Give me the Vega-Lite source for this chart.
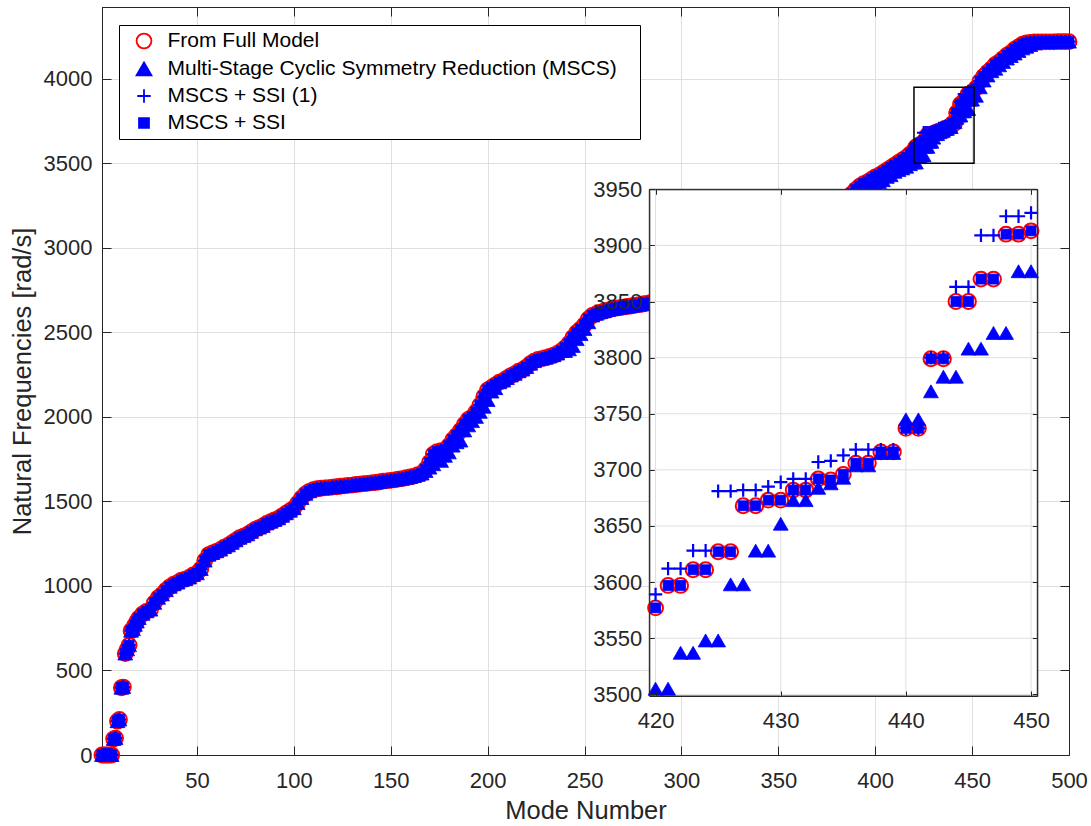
{
"$schema": "https://vega.github.io/schema/vega-lite/v6.json",
"width": 967, "height": 748,
"autosize": "none",
"padding": {"left": 102, "top": 7, "right": 22, "bottom": 71},
"background": "white",
"config": {
  "view": {"stroke": "#262626", "strokeWidth": 1},
  "font": "Liberation Sans",
  "axis": {"labelFont": "Liberation Sans", "titleFont": "Liberation Sans", "labelFontSize": 22, "titleFontSize": 25.5, "titleFontWeight": "normal", "labelColor": "#262626", "titleColor": "#262626", "domainColor": "#262626", "tickColor": "#262626", "gridColor": "#dfdfdf", "gridWidth": 1, "domainWidth": 1, "tickWidth": 1, "labelFlush": false, "format": "d"}
},
"datasets": {
"igx": [{"v":420},{"v":430},{"v":440},{"v":450}],
"igy": [{"v":3500},{"v":3550},{"v":3600},{"v":3650},{"v":3700},{"v":3750},{"v":3800},{"v":3850},{"v":3900}],
"modes": [
{"m":1,"f":0,"a":0,"p":0,"s":0},{"m":2,"f":0,"a":0,"p":0,"s":0},{"m":3,"f":0,"a":0,"p":0,"s":0},{"m":4,"f":0,"a":0,"p":0,"s":0},{"m":5,"f":0,"a":0,"p":0,"s":0},{"m":6,"f":0,"a":0,"p":0,"s":0},
{"m":7,"f":95,"a":95,"p":95,"s":95},{"m":8,"f":100,"a":100,"p":100,"s":100},{"m":9,"f":200,"a":200,"p":200,"s":200},{"m":10,"f":210,"a":210,"p":210,"s":210},
{"m":11,"f":398,"a":398,"p":398,"s":398},{"m":12,"f":402,"a":402,"p":402,"s":402},{"m":13,"f":600,"a":600,"p":600,"s":600},{"m":14,"f":625,"a":625,"p":625,"s":625},
{"m":15,"f":650,"a":650,"p":650,"s":650},{"m":16,"f":735,"a":735,"p":735,"s":735},{"m":17,"f":745,"a":745,"p":745,"s":745},{"m":18,"f":770,"a":770,"p":770,"s":770},
{"m":19,"f":790,"a":790,"p":790,"s":790},{"m":20,"f":810,"a":810,"p":810,"s":810},
{"m":22,"f":835,"a":835,"p":835,"s":835},{"m":24,"f":850,"a":850,"p":850,"s":850},{"m":26,"f":860,"a":860,"p":860,"s":860},{"m":28,"f":900,"a":900,"p":900,"s":900},
{"m":30,"f":930,"a":930,"p":930,"s":930},{"m":32,"f":950,"a":950,"p":950,"s":950},{"m":34,"f":975,"a":975,"p":975,"s":975},{"m":36,"f":995,"a":995,"p":995,"s":995},
{"m":38,"f":1010,"a":1010,"p":1010,"s":1010},{"m":40,"f":1020,"a":1020,"p":1020,"s":1020},{"m":42,"f":1035,"a":1035,"p":1035,"s":1035},{"m":44,"f":1040,"a":1040,"p":1040,"s":1040},
{"m":46,"f":1050,"a":1050,"p":1050,"s":1050},{"m":48,"f":1065,"a":1065,"p":1065,"s":1065},{"m":50,"f":1075,"a":1075,"p":1075,"s":1075},{"m":52,"f":1100,"a":1100,"p":1100,"s":1100},
{"m":54,"f":1150,"a":1150,"p":1150,"s":1150},{"m":56,"f":1185,"a":1185,"p":1185,"s":1185},{"m":58,"f":1195,"a":1195,"p":1195,"s":1195},{"m":60,"f":1205,"a":1205,"p":1205,"s":1205},
{"m":62,"f":1215,"a":1215,"p":1215,"s":1215},{"m":64,"f":1230,"a":1230,"p":1230,"s":1230},{"m":66,"f":1240,"a":1240,"p":1240,"s":1240},{"m":68,"f":1255,"a":1255,"p":1255,"s":1255},
{"m":70,"f":1270,"a":1270,"p":1270,"s":1270},{"m":72,"f":1285,"a":1285,"p":1285,"s":1285},{"m":74,"f":1295,"a":1295,"p":1295,"s":1295},{"m":76,"f":1305,"a":1305,"p":1305,"s":1305},
{"m":78,"f":1320,"a":1320,"p":1320,"s":1320},{"m":80,"f":1335,"a":1335,"p":1335,"s":1335},{"m":82,"f":1345,"a":1345,"p":1345,"s":1345},{"m":84,"f":1355,"a":1355,"p":1355,"s":1355},
{"m":86,"f":1370,"a":1370,"p":1370,"s":1370},{"m":88,"f":1380,"a":1380,"p":1380,"s":1380},{"m":90,"f":1390,"a":1390,"p":1390,"s":1390},{"m":92,"f":1400,"a":1400,"p":1400,"s":1400},
{"m":94,"f":1415,"a":1415,"p":1415,"s":1415},{"m":96,"f":1430,"a":1430,"p":1430,"s":1430},{"m":98,"f":1445,"a":1445,"p":1445,"s":1445},{"m":100,"f":1460,"a":1460,"p":1460,"s":1460},
{"m":102,"f":1490,"a":1490,"p":1490,"s":1490},{"m":104,"f":1520,"a":1520,"p":1520,"s":1520},{"m":106,"f":1545,"a":1545,"p":1545,"s":1545},{"m":108,"f":1560,"a":1560,"p":1560,"s":1560},
{"m":110,"f":1570,"a":1570,"p":1570,"s":1570},{"m":112,"f":1575,"a":1575,"p":1575,"s":1575},{"m":114,"f":1578,"a":1578,"p":1578,"s":1578},{"m":116,"f":1580,"a":1580,"p":1580,"s":1580},
{"m":118,"f":1582,"a":1582,"p":1582,"s":1582},{"m":120,"f":1585,"a":1585,"p":1585,"s":1585},{"m":122,"f":1587,"a":1587,"p":1587,"s":1587},{"m":124,"f":1590,"a":1590,"p":1590,"s":1590},
{"m":126,"f":1592,"a":1592,"p":1592,"s":1592},{"m":128,"f":1595,"a":1595,"p":1595,"s":1595},{"m":130,"f":1597,"a":1597,"p":1597,"s":1597},{"m":132,"f":1600,"a":1600,"p":1600,"s":1600},
{"m":134,"f":1602,"a":1602,"p":1602,"s":1602},{"m":136,"f":1605,"a":1605,"p":1605,"s":1605},{"m":138,"f":1607,"a":1607,"p":1607,"s":1607},{"m":140,"f":1610,"a":1610,"p":1610,"s":1610},
{"m":142,"f":1612,"a":1612,"p":1612,"s":1612},{"m":144,"f":1615,"a":1615,"p":1615,"s":1615},{"m":146,"f":1620,"a":1620,"p":1620,"s":1620},{"m":148,"f":1622,"a":1622,"p":1622,"s":1622},
{"m":150,"f":1625,"a":1625,"p":1625,"s":1625},{"m":152,"f":1628,"a":1628,"p":1628,"s":1628},{"m":154,"f":1632,"a":1632,"p":1632,"s":1632},{"m":156,"f":1635,"a":1635,"p":1635,"s":1635},
{"m":158,"f":1640,"a":1640,"p":1640,"s":1640},{"m":160,"f":1645,"a":1645,"p":1645,"s":1645},{"m":162,"f":1650,"a":1650,"p":1650,"s":1650},{"m":164,"f":1658,"a":1658,"p":1658,"s":1658},
{"m":166,"f":1665,"a":1665,"p":1665,"s":1665},{"m":168,"f":1690,"a":1680,"p":1690,"s":1690},{"m":170,"f":1730,"a":1700,"p":1730,"s":1730},{"m":172,"f":1780,"a":1720,"p":1780,"s":1780},
{"m":174,"f":1795,"a":1750,"p":1795,"s":1795},{"m":176,"f":1800,"a":1740,"p":1800,"s":1800},{"m":178,"f":1805,"a":1770,"p":1805,"s":1805},{"m":180,"f":1830,"a":1790,"p":1830,"s":1830},
{"m":182,"f":1865,"a":1830,"p":1865,"s":1865},{"m":184,"f":1890,"a":1850,"p":1890,"s":1890},{"m":186,"f":1920,"a":1860,"p":1920,"s":1920},{"m":188,"f":1955,"a":1920,"p":1955,"s":1955},
{"m":190,"f":1985,"a":1950,"p":1985,"s":1985},{"m":192,"f":2000,"a":1975,"p":2000,"s":2000},{"m":194,"f":2030,"a":2000,"p":2030,"s":2030},{"m":196,"f":2070,"a":2030,"p":2070,"s":2070},
{"m":198,"f":2120,"a":2060,"p":2120,"s":2120},{"m":200,"f":2160,"a":2100,"p":2160,"s":2160},{"m":202,"f":2175,"a":2150,"p":2175,"s":2175},{"m":204,"f":2190,"a":2170,"p":2190,"s":2190},
{"m":206,"f":2205,"a":2205,"p":2205,"s":2205},{"m":208,"f":2215,"a":2215,"p":2215,"s":2215},{"m":210,"f":2230,"a":2230,"p":2230,"s":2230},{"m":212,"f":2245,"a":2245,"p":2245,"s":2245},
{"m":214,"f":2255,"a":2255,"p":2255,"s":2255},{"m":216,"f":2270,"a":2270,"p":2270,"s":2270},{"m":218,"f":2280,"a":2280,"p":2280,"s":2280},{"m":220,"f":2295,"a":2295,"p":2295,"s":2295},
{"m":222,"f":2315,"a":2315,"p":2315,"s":2315},{"m":224,"f":2330,"a":2330,"p":2330,"s":2330},{"m":226,"f":2340,"a":2340,"p":2340,"s":2340},{"m":228,"f":2345,"a":2345,"p":2345,"s":2345},
{"m":230,"f":2350,"a":2350,"p":2350,"s":2350},{"m":232,"f":2358,"a":2358,"p":2358,"s":2358},{"m":234,"f":2365,"a":2365,"p":2365,"s":2365},{"m":236,"f":2375,"a":2375,"p":2375,"s":2375},
{"m":238,"f":2390,"a":2390,"p":2390,"s":2390},{"m":240,"f":2410,"a":2390,"p":2410,"s":2410},{"m":242,"f":2435,"a":2400,"p":2435,"s":2435},{"m":244,"f":2470,"a":2420,"p":2470,"s":2470},
{"m":246,"f":2500,"a":2460,"p":2500,"s":2500},{"m":248,"f":2520,"a":2490,"p":2520,"s":2520},{"m":250,"f":2545,"a":2520,"p":2545,"s":2545},{"m":252,"f":2580,"a":2560,"p":2580,"s":2580},
{"m":254,"f":2600,"a":2600,"p":2600,"s":2600},{"m":256,"f":2610,"a":2610,"p":2610,"s":2610},{"m":258,"f":2620,"a":2620,"p":2620,"s":2620},{"m":260,"f":2625,"a":2625,"p":2625,"s":2625},
{"m":262,"f":2632,"a":2632,"p":2632,"s":2632},{"m":264,"f":2638,"a":2638,"p":2638,"s":2638},{"m":266,"f":2642,"a":2642,"p":2642,"s":2642},{"m":268,"f":2646,"a":2646,"p":2646,"s":2646},
{"m":270,"f":2650,"a":2650,"p":2650,"s":2650},{"m":272,"f":2653,"a":2653,"p":2653,"s":2653},{"m":274,"f":2656,"a":2656,"p":2656,"s":2656},{"m":276,"f":2660,"a":2660,"p":2660,"s":2660},
{"m":278,"f":2664,"a":2664,"p":2664,"s":2664},{"m":280,"f":2668,"a":2668,"p":2668,"s":2668},{"m":282,"f":2672,"a":2672,"p":2672,"s":2672},{"m":284,"f":2676,"a":2676,"p":2676,"s":2676},
{"m":286,"f":2680,"a":2680,"p":2680,"s":2680},{"m":288,"f":2685,"a":2685,"p":2685,"s":2685},{"m":290,"f":2690,"a":2690,"p":2690,"s":2690},{"m":292,"f":2700,"a":2700,"p":2700,"s":2700},
{"m":294,"f":2705,"a":2705,"p":2705,"s":2705},{"m":296,"f":2712,"a":2712,"p":2712,"s":2712},{"m":298,"f":2718,"a":2718,"p":2718,"s":2718},{"m":300,"f":2725,"a":2725,"p":2725,"s":2725},
{"m":302,"f":2730,"a":2730,"p":2730,"s":2730},{"m":304,"f":2738,"a":2738,"p":2738,"s":2738},{"m":306,"f":2745,"a":2745,"p":2745,"s":2745},{"m":308,"f":2752,"a":2752,"p":2752,"s":2752},
{"m":310,"f":2760,"a":2760,"p":2760,"s":2760},{"m":312,"f":2768,"a":2768,"p":2768,"s":2768},{"m":314,"f":2775,"a":2775,"p":2775,"s":2775},{"m":316,"f":2782,"a":2782,"p":2782,"s":2782},
{"m":318,"f":2790,"a":2790,"p":2790,"s":2790},{"m":320,"f":2800,"a":2800,"p":2800,"s":2800},{"m":322,"f":2810,"a":2810,"p":2810,"s":2810},{"m":324,"f":2820,"a":2820,"p":2820,"s":2820},
{"m":326,"f":2830,"a":2830,"p":2830,"s":2830},{"m":328,"f":2840,"a":2840,"p":2840,"s":2840},{"m":330,"f":2850,"a":2850,"p":2850,"s":2850},{"m":332,"f":2865,"a":2865,"p":2865,"s":2865},
{"m":334,"f":2878,"a":2878,"p":2878,"s":2878},{"m":336,"f":2890,"a":2890,"p":2890,"s":2890},{"m":338,"f":2905,"a":2905,"p":2905,"s":2905},{"m":340,"f":2920,"a":2920,"p":2920,"s":2920},
{"m":342,"f":2935,"a":2935,"p":2935,"s":2935},{"m":344,"f":2950,"a":2950,"p":2950,"s":2950},{"m":346,"f":2965,"a":2965,"p":2965,"s":2965},{"m":348,"f":2980,"a":2980,"p":2980,"s":2980},
{"m":350,"f":3000,"a":3000,"p":3000,"s":3000},{"m":352,"f":3015,"a":3015,"p":3015,"s":3015},{"m":354,"f":3030,"a":3030,"p":3030,"s":3030},{"m":356,"f":3045,"a":3045,"p":3045,"s":3045},
{"m":358,"f":3060,"a":3060,"p":3060,"s":3060},{"m":360,"f":3080,"a":3080,"p":3080,"s":3080},{"m":362,"f":3095,"a":3095,"p":3095,"s":3095},{"m":364,"f":3110,"a":3110,"p":3110,"s":3110},
{"m":366,"f":3125,"a":3125,"p":3125,"s":3125},{"m":368,"f":3140,"a":3140,"p":3140,"s":3140},{"m":370,"f":3160,"a":3160,"p":3160,"s":3160},{"m":372,"f":3175,"a":3175,"p":3175,"s":3175},
{"m":374,"f":3190,"a":3190,"p":3190,"s":3190},{"m":376,"f":3205,"a":3205,"p":3205,"s":3205},{"m":378,"f":3222,"a":3222,"p":3222,"s":3222},{"m":380,"f":3240,"a":3240,"p":3240,"s":3240},
{"m":382,"f":3260,"a":3260,"p":3260,"s":3260},{"m":384,"f":3280,"a":3280,"p":3280,"s":3280},{"m":386,"f":3300,"a":3300,"p":3300,"s":3300},{"m":388,"f":3320,"a":3320,"p":3320,"s":3320},
{"m":390,"f":3345,"a":3345,"p":3345,"s":3345},{"m":392,"f":3365,"a":3365,"p":3365,"s":3365},{"m":394,"f":3380,"a":3380,"p":3380,"s":3380},{"m":396,"f":3390,"a":3340,"p":3390,"s":3390},
{"m":398,"f":3405,"a":3360,"p":3405,"s":3405},{"m":400,"f":3420,"a":3380,"p":3420,"s":3420},{"m":402,"f":3430,"a":3390,"p":3430,"s":3430},{"m":404,"f":3445,"a":3400,"p":3445,"s":3445},
{"m":406,"f":3460,"a":3420,"p":3460,"s":3460},{"m":408,"f":3475,"a":3430,"p":3475,"s":3475},{"m":410,"f":3490,"a":3450,"p":3490,"s":3490},{"m":412,"f":3505,"a":3460,"p":3505,"s":3505},
{"m":414,"f":3520,"a":3470,"p":3520,"s":3520},{"m":416,"f":3535,"a":3480,"p":3535,"s":3535},{"m":418,"f":3555,"a":3495,"p":3555,"s":3555},
{"m":420,"f":3577,"a":3505,"p":3589,"s":3577},{"m":421,"f":3597,"a":3505,"p":3612,"s":3597},{"m":422,"f":3597,"a":3537,"p":3612,"s":3597},{"m":423,"f":3611,"a":3537,"p":3628,"s":3611},
{"m":424,"f":3611,"a":3548,"p":3628,"s":3611},{"m":425,"f":3627,"a":3548,"p":3681,"s":3627},{"m":426,"f":3627,"a":3598,"p":3681,"s":3627},{"m":427,"f":3668,"a":3598,"p":3682,"s":3668},
{"m":428,"f":3668,"a":3628,"p":3682,"s":3668},{"m":429,"f":3673,"a":3628,"p":3685,"s":3673},{"m":430,"f":3673,"a":3652,"p":3689,"s":3673},{"m":431,"f":3682,"a":3673,"p":3692,"s":3682},
{"m":432,"f":3682,"a":3673,"p":3692,"s":3682},{"m":433,"f":3692,"a":3684,"p":3707,"s":3692},{"m":434,"f":3691,"a":3688,"p":3708,"s":3691},{"m":435,"f":3696,"a":3693,"p":3713,"s":3696},
{"m":436,"f":3706,"a":3704,"p":3718,"s":3706},{"m":437,"f":3706,"a":3704,"p":3718,"s":3706},{"m":438,"f":3716,"a":3715,"p":3718,"s":3716},{"m":439,"f":3716,"a":3715,"p":3718,"s":3716},
{"m":440,"f":3737,"a":3745,"p":3737,"s":3737},{"m":441,"f":3737,"a":3745,"p":3737,"s":3737},{"m":442,"f":3799,"a":3770,"p":3800,"s":3799},{"m":443,"f":3799,"a":3783,"p":3800,"s":3799},
{"m":444,"f":3850,"a":3783,"p":3863,"s":3850},{"m":445,"f":3850,"a":3808,"p":3863,"s":3850},{"m":446,"f":3870,"a":3808,"p":3909,"s":3870},{"m":447,"f":3870,"a":3822,"p":3909,"s":3870},
{"m":448,"f":3910,"a":3822,"p":3926,"s":3910},{"m":449,"f":3910,"a":3877,"p":3926,"s":3910},{"m":450,"f":3913,"a":3877,"p":3929,"s":3913},
{"m":452,"f":3945,"a":3900,"p":3945,"s":3945},{"m":454,"f":3985,"a":3950,"p":3985,"s":3985},{"m":456,"f":4015,"a":3990,"p":4015,"s":4015},{"m":458,"f":4040,"a":4020,"p":4040,"s":4040},
{"m":460,"f":4060,"a":4045,"p":4060,"s":4060},{"m":462,"f":4085,"a":4060,"p":4085,"s":4085},{"m":464,"f":4100,"a":4080,"p":4100,"s":4100},{"m":466,"f":4120,"a":4100,"p":4120,"s":4120},
{"m":468,"f":4140,"a":4120,"p":4140,"s":4140},{"m":470,"f":4155,"a":4135,"p":4155,"s":4155},{"m":472,"f":4175,"a":4150,"p":4175,"s":4175},{"m":474,"f":4190,"a":4165,"p":4190,"s":4190},
{"m":476,"f":4205,"a":4180,"p":4205,"s":4205},{"m":478,"f":4212,"a":4190,"p":4212,"s":4212},{"m":480,"f":4216,"a":4200,"p":4216,"s":4216},{"m":482,"f":4218,"a":4210,"p":4218,"s":4218},
{"m":484,"f":4218,"a":4218,"p":4218,"s":4218},{"m":486,"f":4218,"a":4218,"p":4218,"s":4218},{"m":488,"f":4219,"a":4219,"p":4219,"s":4219},{"m":490,"f":4219,"a":4219,"p":4219,"s":4219},
{"m":492,"f":4219,"a":4219,"p":4219,"s":4219},{"m":494,"f":4220,"a":4220,"p":4220,"s":4220},{"m":496,"f":4220,"a":4220,"p":4220,"s":4220},{"m":498,"f":4220,"a":4220,"p":4220,"s":4220},
{"m":500,"f":4220,"a":4220,"p":4220,"s":4220}
]
},
"layer": [
{
  "data": {"name": "modes"},
  "resolve": {"axis": {"x": "independent", "y": "independent"}},
  "layer": [
    {
      "transform": [{"fold": ["f"], "as": ["key", "v"]}],
      "mark": {"type": "point", "size": 220, "strokeWidth": 2, "opacity": 1},
      "encoding": {
        "x": {"field": "m", "type": "quantitative", "scale": {"domain": [1, 500], "nice": false, "zero": false},
              "axis": {"orient": "bottom", "values": [50,100,150,200,250,300,350,400,450,500], "grid": true, "title": "Mode Number", "tickSize": -9, "labelPadding": 24, "titlePadding": 7}},
        "y": {"field": "v", "type": "quantitative", "scale": {"domain": [0, 4425], "nice": false, "zero": false},
              "axis": {"orient": "left", "values": [0,500,1000,1500,2000,2500,3000,3500,4000], "grid": true, "title": "Natural Frequencies [rad/s]", "tickSize": -9, "labelPadding": 19, "titlePadding": 8}},
        "shape": {"field": "key", "type": "nominal",
                  "scale": {"domain": ["f","a","p","s"], "range": ["M1,0A1,1,0,1,1,-1,0A1,1,0,1,1,1,0Z", "M0,-0.87L1,0.87L-1,0.87Z", "M-0.9,0H0.9M0,-0.9V0.9", "M-0.67,-0.67H0.67V0.67H-0.67Z"]},
                  "legend": {"title": null, "orient": "none", "legendX": 17, "legendY": 18, "labelExpr": "datum.label == 'f' ? 'From Full Model' : datum.label == 'a' ? 'Multi-Stage Cyclic Symmetry Reduction (MSCS)\u00a0\u00a0\u00a0\u200b' : datum.label == 'p' ? 'MSCS + SSI (1)' : 'MSCS + SSI'", "strokeColor": "#000000", "fillColor": "#ffffff", "padding": 5.5, "labelFont": "Liberation Sans", "labelFontSize": 21, "labelColor": "#000000", "symbolSize": 220, "symbolStrokeWidth": 1.8, "symbolFillColor": "#0000ff", "symbolStrokeColor": "#0000ff", "rowPadding": 5, "symbolOffset": 9, "labelOffset": 13, "labelLimit": 0}},
        "fill": {"field": "key", "type": "nominal",
                 "scale": {"domain": ["f","a","p","s"], "range": ["transparent", "#0000ff", "#0000ff", "#0000ff"]},
                 "legend": {"title": null, "orient": "none", "legendX": 17, "legendY": 18, "labelExpr": "datum.label == 'f' ? 'From Full Model' : datum.label == 'a' ? 'Multi-Stage Cyclic Symmetry Reduction (MSCS)\u00a0\u00a0\u00a0\u200b' : datum.label == 'p' ? 'MSCS + SSI (1)' : 'MSCS + SSI'", "strokeColor": "#000000", "fillColor": "#ffffff", "padding": 5.5, "labelFont": "Liberation Sans", "labelFontSize": 21, "labelColor": "#000000", "symbolSize": 220, "symbolStrokeWidth": 1.8, "symbolFillColor": "#0000ff", "symbolStrokeColor": "#0000ff", "rowPadding": 5, "symbolOffset": 9, "labelOffset": 13, "labelLimit": 0}},
        "stroke": {"field": "key", "type": "nominal",
                   "scale": {"domain": ["f","a","p","s"], "range": ["#ff0000", "#0000ff", "#0000ff", "#0000ff"]},
                   "legend": {"title": null, "orient": "none", "legendX": 17, "legendY": 18, "labelExpr": "datum.label == 'f' ? 'From Full Model' : datum.label == 'a' ? 'Multi-Stage Cyclic Symmetry Reduction (MSCS)\u00a0\u00a0\u00a0\u200b' : datum.label == 'p' ? 'MSCS + SSI (1)' : 'MSCS + SSI'", "strokeColor": "#000000", "fillColor": "#ffffff", "padding": 5.5, "labelFont": "Liberation Sans", "labelFontSize": 21, "labelColor": "#000000", "symbolSize": 220, "symbolStrokeWidth": 1.8, "symbolFillColor": "#0000ff", "symbolStrokeColor": "#0000ff", "rowPadding": 5, "symbolOffset": 9, "labelOffset": 13, "labelLimit": 0}}
      }
    },
    {
      "transform": [{"fold": ["a"], "as": ["key", "v"]}],
      "mark": {"type": "point", "size": 220, "strokeWidth": 0.8, "opacity": 1},
      "encoding": {
        "x": {"field": "m", "type": "quantitative", "axis": {"orient": "top", "values": [50,100,150,200,250,300,350,400,450,500], "labels": false, "grid": false, "title": null, "tickSize": -9}},
        "y": {"field": "v", "type": "quantitative", "axis": {"orient": "right", "values": [0,500,1000,1500,2000,2500,3000,3500,4000], "labels": false, "grid": false, "title": null, "tickSize": -9}},
        "shape": {"field": "key", "type": "nominal"},
        "fill": {"field": "key", "type": "nominal"},
        "stroke": {"field": "key", "type": "nominal"}
      }
    },
    {
      "transform": [{"fold": ["p"], "as": ["key", "v"]}],
      "mark": {"type": "point", "size": 220, "strokeWidth": 2.2, "opacity": 1},
      "encoding": {
        "x": {"field": "m", "type": "quantitative", "axis": null},
        "y": {"field": "v", "type": "quantitative", "axis": null},
        "shape": {"field": "key", "type": "nominal"},
        "fill": {"field": "key", "type": "nominal"},
        "stroke": {"field": "key", "type": "nominal"}
      }
    },
    {
      "transform": [{"fold": ["s"], "as": ["key", "v"]}],
      "mark": {"type": "point", "size": 220, "strokeWidth": 0.8, "opacity": 1},
      "encoding": {
        "x": {"field": "m", "type": "quantitative", "axis": null},
        "y": {"field": "v", "type": "quantitative", "axis": null},
        "shape": {"field": "key", "type": "nominal"},
        "fill": {"field": "key", "type": "nominal"},
        "stroke": {"field": "key", "type": "nominal"}
      }
    },
    {
      "data": {"values": [{}]},
      "mark": {"type": "rect", "fill": null, "fillOpacity": 0, "stroke": "#000000", "strokeWidth": 1.5},
      "encoding": {
        "x": {"datum": 420, "type": "quantitative", "axis": null},
        "x2": {"datum": 451},
        "y": {"datum": 3500, "type": "quantitative", "axis": null},
        "y2": {"datum": 3950}
      }
    }
  ]
},
{
  "resolve": {"axis": {"x": "independent", "y": "independent"}},
  "layer": [
    {
      "data": {"values": [{}]},
      "mark": {"type": "rect", "fill": "#ffffff", "stroke": "#262626", "strokeWidth": 1},
      "encoding": {
        "x": {"datum": 419.5, "type": "quantitative", "scale": {"domain": [419.5, 450.5], "range": [547.3, 935.3], "nice": false, "zero": false},
              "axis": {"orient": "bottom", "offset": -59, "values": [420,430,440,450], "grid": false, "title": null, "tickSize": -5, "labelPadding": 19, "zindex": 1}},
        "x2": {"datum": 450.5},
        "y": {"datum": 3498.5, "type": "quantitative", "scale": {"domain": [3498.5, 3950], "range": [689, 182.3], "nice": false, "zero": false},
              "axis": {"orient": "left", "offset": -547.3, "values": [3500,3550,3600,3650,3700,3750,3800,3850,3900,3950], "grid": false, "title": null, "tickSize": -5, "labelPadding": 12.6, "zindex": 1}},
        "y2": {"datum": 3950}
      }
    },
    {
      "data": {"name": "igx"},
      "mark": {"type": "rule", "color": "#dfdfdf", "strokeWidth": 1},
      "encoding": {
        "x": {"field": "v", "type": "quantitative", "axis": {"orient": "top", "offset": -182.3, "values": [420,430,440,450], "labels": false, "grid": false, "title": null, "tickSize": -5, "zindex": 1}},
        "y": {"datum": 3498.5, "type": "quantitative", "axis": null},
        "y2": {"datum": 3950}
      }
    },
    {
      "data": {"name": "igy"},
      "mark": {"type": "rule", "color": "#dfdfdf", "strokeWidth": 1},
      "encoding": {
        "y": {"field": "v", "type": "quantitative", "axis": {"orient": "right", "offset": -31.7, "values": [3500,3550,3600,3650,3700,3750,3800,3850,3900,3950], "labels": false, "grid": false, "title": null, "tickSize": -5, "zindex": 1}},
        "x": {"datum": 419.5, "type": "quantitative", "axis": null},
        "x2": {"datum": 450.5}
      }
    },
    {
      "data": {"name": "modes"},
      "transform": [{"filter": "datum.m >= 420 && datum.m <= 450"}, {"fold": ["f"], "as": ["key", "v"]}],
      "mark": {"type": "point", "size": 220, "strokeWidth": 2, "opacity": 1},
      "encoding": {
        "x": {"field": "m", "type": "quantitative", "axis": null},
        "y": {"field": "v", "type": "quantitative", "axis": null},
        "shape": {"field": "key", "type": "nominal"},
        "fill": {"field": "key", "type": "nominal"},
        "stroke": {"field": "key", "type": "nominal"}
      }
    },
    {
      "data": {"name": "modes"},
      "transform": [{"filter": "datum.m >= 420 && datum.m <= 450"}, {"fold": ["a"], "as": ["key", "v"]}],
      "mark": {"type": "point", "size": 220, "strokeWidth": 0.8, "opacity": 1},
      "encoding": {
        "x": {"field": "m", "type": "quantitative", "axis": null},
        "y": {"field": "v", "type": "quantitative", "axis": null},
        "shape": {"field": "key", "type": "nominal"},
        "fill": {"field": "key", "type": "nominal"},
        "stroke": {"field": "key", "type": "nominal"}
      }
    },
    {
      "data": {"name": "modes"},
      "transform": [{"filter": "datum.m >= 420 && datum.m <= 450"}, {"fold": ["p"], "as": ["key", "v"]}],
      "mark": {"type": "point", "size": 220, "strokeWidth": 2.2, "opacity": 1},
      "encoding": {
        "x": {"field": "m", "type": "quantitative", "axis": null},
        "y": {"field": "v", "type": "quantitative", "axis": null},
        "shape": {"field": "key", "type": "nominal"},
        "fill": {"field": "key", "type": "nominal"},
        "stroke": {"field": "key", "type": "nominal"}
      }
    },
    {
      "data": {"name": "modes"},
      "transform": [{"filter": "datum.m >= 420 && datum.m <= 450"}, {"fold": ["s"], "as": ["key", "v"]}],
      "mark": {"type": "point", "size": 220, "strokeWidth": 0.8, "opacity": 1},
      "encoding": {
        "x": {"field": "m", "type": "quantitative", "axis": null},
        "y": {"field": "v", "type": "quantitative", "axis": null},
        "shape": {"field": "key", "type": "nominal"},
        "fill": {"field": "key", "type": "nominal"},
        "stroke": {"field": "key", "type": "nominal"}
      }
    }
  ]
}
],
"resolve": {"scale": {"x": "independent", "y": "independent"}, "axis": {"x": "independent", "y": "independent"}}
}
